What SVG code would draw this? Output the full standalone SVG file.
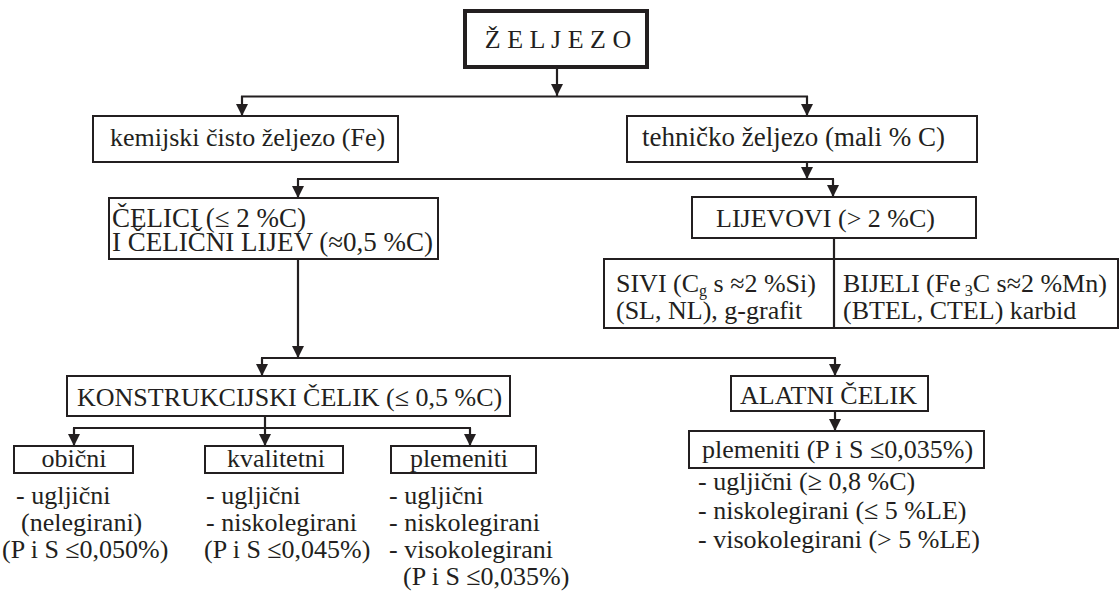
<svg xmlns="http://www.w3.org/2000/svg" width="1120" height="593" viewBox="0 0 1120 593" xml:space="preserve">
<style>
text{font-family:"Liberation Serif","Times New Roman",serif;font-size:26px;fill:#231f20}
.box{fill:#fff;stroke:#231f20;stroke-width:2}
.con{fill:none;stroke:#231f20;stroke-width:2.2}
.arr{marker-end:url(#ah)}
.sub{font-size:16px}
.big{font-size:27px}
</style>
<defs>
<marker id="ah" markerUnits="userSpaceOnUse" markerWidth="12" markerHeight="12" refX="12" refY="6" orient="auto" viewBox="0 0 12 12">
<path d="M0,0 L12,6 L0,12 Z" fill="#231f20"/>
</marker>
</defs>
<rect width="1120" height="593" fill="#fff"/>
<g id="connectors">
<line class="con arr" x1="557" y1="68" x2="557" y2="96"/>
<line class="con" x1="241" y1="96.5" x2="808" y2="96.5"/>
<line class="con arr" x1="242" y1="96" x2="242" y2="116"/>
<line class="con arr" x1="807" y1="96" x2="807" y2="116"/>
<line class="con arr" x1="807" y1="162" x2="807" y2="179"/>
<line class="con" x1="297" y1="179" x2="834" y2="179"/>
<line class="con arr" x1="298" y1="179" x2="298" y2="198"/>
<line class="con arr" x1="833" y1="179" x2="833" y2="197"/>
<line class="con" x1="834" y1="238" x2="834" y2="259"/>
<line class="con arr" x1="298" y1="259" x2="298" y2="358"/>
<line class="con" x1="261" y1="358" x2="836" y2="358"/>
<line class="con arr" x1="262" y1="358" x2="262" y2="376"/>
<line class="con arr" x1="835" y1="358" x2="835" y2="376"/>
<line class="con arr" x1="835" y1="411" x2="835" y2="431"/>
<line class="con" x1="265" y1="416" x2="265" y2="428"/>
<line class="con" x1="73" y1="428" x2="471" y2="428"/>
<line class="con arr" x1="74" y1="428" x2="74" y2="446"/>
<line class="con arr" x1="265" y1="428" x2="265" y2="446"/>
<line class="con arr" x1="470" y1="428" x2="470" y2="446"/>
</g>
<g id="zeljezo">
<rect x="465" y="11" width="182" height="56" fill="#fff" stroke="#231f20" stroke-width="4"/>
<text x="558" y="48" text-anchor="middle" font-size="25">Ž E L J E Z O</text>
</g>
<g id="kemijski">
<rect class="box" x="93" y="116" width="305" height="46"/>
<text x="110" y="146">kemijski čisto željezo (Fe)</text>
</g>
<g id="tehnicko">
<rect class="box" x="627" y="116" width="350" height="46"/>
<text class="big" x="642" y="146">tehničko željezo (mali %  C)</text>
</g>
<g id="celici">
<rect class="box" x="109" y="198" width="329" height="61"/>
<text class="big" x="112" y="227">ČELICI (≤ 2 %C)</text>
<text class="big" x="112" y="251">I  ČELIČNI LIJEV (≈0,5 %C)</text>
</g>
<g id="lijevovi">
<rect class="box" x="692" y="197" width="284" height="41"/>
<text x="716" y="227">LIJEVOVI (&gt; 2 %C)</text>
</g>
<g id="sivi-bijeli">
<rect class="box" x="604" y="259" width="514" height="69"/>
<line class="con" x1="834" y1="259" x2="834" y2="328"/>
<text x="616" y="292" font-size="26.5">SIVI (C<tspan class="sub" dy="4">g</tspan><tspan dy="-4"> s  ≈2 %Si)</tspan></text>
<text x="616" y="319" font-size="26.5">(SL, NL), g-grafit</text>
<text x="843" y="292" font-size="26.5">BIJELI (Fe<tspan class="sub" dy="4"> 3</tspan><tspan dy="-4">C s≈2 %Mn)</tspan></text>
<text x="843" y="319" font-size="26.5">(BTEL, CTEL) karbid</text>
</g>
<g id="konstrukcijski">
<rect class="box" x="67" y="376" width="443" height="40"/>
<text x="77" y="406">KONSTRUKCIJSKI ČELIK (≤ 0,5 %C)</text>
</g>
<g id="alatni">
<rect class="box" x="731" y="376" width="197" height="35"/>
<text x="740" y="404">ALATNI ČELIK</text>
</g>
<g id="obicni">
<rect class="box" x="14" y="446" width="119" height="27"/>
<text x="74" y="467" text-anchor="middle">obični</text>
<text x="16" y="504">- ugljični</text>
<text x="21" y="531">(nelegirani)</text>
<text x="2" y="558">(P i S ≤0,050%)</text>
</g>
<g id="kvalitetni">
<rect class="box" x="205" y="446" width="138" height="27"/>
<text x="276" y="467" text-anchor="middle">kvalitetni</text>
<text x="206" y="504">- ugljični</text>
<text x="206" y="531">- niskolegirani</text>
<text x="204" y="558">(P i S ≤0,045%)</text>
</g>
<g id="plemeniti">
<rect class="box" x="391" y="446" width="145" height="27"/>
<text x="459" y="467" text-anchor="middle">plemeniti</text>
<text x="389" y="504">- ugljični</text>
<text x="389" y="531">- niskolegirani</text>
<text x="389" y="558">- visokolegirani</text>
<text x="403" y="585">(P i S ≤0,035%)</text>
</g>
<g id="alatni-plemeniti">
<rect class="box" x="689" y="431" width="295" height="37"/>
<text x="702" y="458">plemeniti (P i S ≤0,035%)</text>
<text x="698" y="490">- ugljični (≥ 0,8 %C)</text>
<text x="698" y="519">- niskolegirani (≤ 5 %LE)</text>
<text x="698" y="548">- visokolegirani (&gt; 5 %LE)</text>
</g>
</svg>
